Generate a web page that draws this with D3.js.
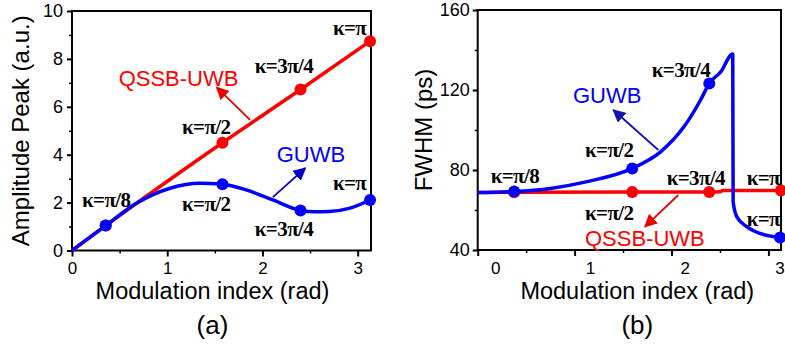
<!DOCTYPE html>
<html>
<head>
<meta charset="utf-8">
<script src="https://cdn.jsdelivr.net/npm/d3@7"></script>
<style>
  html, body { margin: 0; padding: 0; background: #fff; }
  svg { display: block; }
</style>
</head>
<body>
<svg id="chart" width="785" height="349"></svg>
<script>
// ── Data ─────────────────────────────────────────────
// (a) amplitude peak vs modulation index
const ampQssbX = [0, 0.354, 1.58, 2.40, 3.13];
const ampQssbY = [0, 1.04, 4.50, 6.72, 8.74];
const ampGuwbX = [0, 0.354, 0.68, 1.03, 1.34, 1.58, 1.83, 2.11, 2.40, 2.55, 2.70, 2.92, 3.13];
const ampGuwbY = [0, 1.04, 1.98, 2.60, 2.81, 2.77, 2.53, 2.11, 1.67, 1.62, 1.63, 1.77, 2.11];
const ampQssbDots = [1, 2, 3, 4];          // indices into ampQssb
const ampGuwbDots = [1, 5, 8, 12];         // indices into ampGuwb

// (b) FWHM vs modulation index
const fwQssbX = [0, 0.376, 1.595, 2.39, 2.50, 2.53, 3.13];
const fwQssbY = [68.8, 68.9, 69.0, 69.0, 69.1, 69.8, 69.8];
const fwGuwbX = [0, 0.376, 0.75, 1.13, 1.595, 1.89, 2.13, 2.30, 2.39, 2.51, 2.632, 2.636, 2.673, 2.776, 2.913, 3.12];
const fwGuwbY = [68.7, 69.2, 70.8, 74.2, 80.8, 89.2, 101.7, 115, 123.3, 129.2, 138, 64.2, 56.7, 51.7, 48.3, 46.3];
const fwQssbDots = [1, 2, 3, 6];
const fwGuwbDots = [1, 4, 8, 15];

// tick values
const xTicks      = [0, 1, 2, 3];
const xMinor      = [0.5, 1.5, 2.5];
const ampTicks    = [0, 2, 4, 6, 8, 10];
const ampMinor    = [1, 3, 5, 7, 9];
const fwTicks     = [40, 80, 120, 160];
const fwMinor     = [60, 100, 140];

// annotations [text, x, y, colour] in data units (text start, baseline)
const ampLabels = [
  ['κ=π',      2.74, 8.98, '#000'],
  ['κ=3π/4',   1.92, 7.42, '#000'],
  ['κ=π/2',    1.155, 4.87, '#000'],
  ['κ=π/8',    0.105, 1.82, '#000'],
  ['κ=π/2',    1.155, 1.65, '#000'],
  ['κ=π',      2.74, 2.53, '#000'],
  ['κ=3π/4',   1.92, 0.62, '#000'],
];
const ampNames = [
  ['QSSB-UWB', 0.49, 6.88, '#ff0000'],
  ['GUWB',     2.15, 3.71, '#0000ff'],
];
const ampArrows = [  // [x0, y0, x1(head), y1(head), colour]
  [1.87, 5.45, 1.52, 6.81, '#e80000'],
  [2.11, 2.23, 2.45, 3.44, '#0000c8'],
];

const fwLabels = [
  ['κ=3π/4', 1.796, 126.5, '#000'],
  ['κ=π/2',  1.107, 86.5, '#000'],
  ['κ=π/8',  0.134, 73.5, '#000'],
  ['κ=3π/4', 1.95, 72.5, '#000'],
  ['κ=π',    2.776, 72.5, '#000'],
  ['κ=π/2',  1.107, 55, '#000'],
  ['κ=π',    2.776, 52, '#000'],
];
const fwNames = [
  ['GUWB',     0.983, 113.5, '#0000ff'],
  ['QSSB-UWB', 1.107, 42, '#ff0000'],
];
const fwArrows = [
  [1.864, 90, 1.40, 110, '#1414b4'],
  [2.07, 67.5, 1.727, 51.7, '#e80000'],
];

// ── Setup ────────────────────────────────────────────
const svg = d3.select('#chart');
const SANS = '"Liberation Sans", Arial, sans-serif';
const SERIF = '"Liberation Serif", "Times New Roman", serif';

const defs = svg.append('defs');
function arrowMarker(id, color) {
  defs.append('marker')
    .attr('id', id)
    .attr('viewBox', '0 0 10 10')
    .attr('refX', 9).attr('refY', 5)
    .attr('markerWidth', 13).attr('markerHeight', 13)
    .attr('markerUnits', 'userSpaceOnUse')
    .attr('orient', 'auto')
    .append('path')
      .attr('d', 'M0,0 L10,5 L0,10 z')
      .attr('fill', color);
}

function drawPanel(opt) {
  const { left, right, top, bottom, xDomain, yDomain } = opt;
  const x = d3.scaleLinear().domain(xDomain).range([left, right]);
  const y = d3.scaleLinear().domain(yDomain).range([bottom, top]);
  const g = svg.append('g');

  // frame
  g.append('rect')
    .attr('x', left).attr('y', top)
    .attr('width', right - left).attr('height', bottom - top)
    .attr('fill', 'none').attr('stroke', '#000').attr('stroke-width', 2);

  // minor ticks
  g.append('g').attr('transform', `translate(0,${bottom})`)
    .call(d3.axisBottom(x).tickValues(xMinor).tickSize(3).tickFormat(''))
    .call(a => a.select('.domain').remove())
    .selectAll('line').attr('stroke-width', 1.5);
  g.append('g').attr('transform', `translate(${left},0)`)
    .call(d3.axisLeft(y).tickValues(opt.yMinor).tickSize(3).tickFormat(''))
    .call(a => a.select('.domain').remove())
    .selectAll('line').attr('stroke-width', 1.5);

  // major ticks
  const xa = g.append('g').attr('transform', `translate(0,${bottom})`)
    .call(d3.axisBottom(x).tickValues(xTicks).tickSize(6).tickPadding(5.5)
      .tickFormat(opt.shiftXLabels ? '' : d3.format('d')))
    .call(a => a.select('.domain').remove());
  xa.selectAll('line').attr('stroke-width', 2);
  xa.selectAll('text').attr('font-size', 17).attr('font-family', SANS).attr('fill', '#000');

  if (opt.shiftXLabels) {
    // labels in the original sit right of their ticks
    const lx = d3.scaleLinear().domain([0, 3]).range(opt.shiftXLabels);
    g.selectAll('.xlab').data(xTicks).join('text')
      .attr('x', d => lx(d)).attr('y', bottom + 23.5)
      .attr('text-anchor', 'middle')
      .attr('font-size', 17).attr('font-family', SANS)
      .text(d => d);
  }

  const ya = g.append('g').attr('transform', `translate(${left},0)`)
    .call(d3.axisLeft(y).tickValues(opt.yTicks).tickSize(5).tickPadding(opt.yPad))
    .call(a => a.select('.domain').remove());
  ya.selectAll('line').attr('stroke-width', 2);
  ya.selectAll('text').attr('font-size', 18).attr('font-family', SANS).attr('fill', '#000');

  // titles
  g.append('text')
    .attr('x', opt.xTitleX).attr('y', 299)
    .attr('text-anchor', 'middle')
    .attr('font-size', 23.5).attr('font-family', SANS)
    .text('Modulation index (rad)');
  g.append('text')
    .attr('transform', `translate(${opt.yTitleX},${(top + bottom) / 2}) rotate(-90)`)
    .attr('text-anchor', 'middle')
    .attr('font-size', 24).attr('font-family', SANS)
    .text(opt.yTitle);
  g.append('text')
    .attr('x', opt.xTitleX).attr('y', 334)
    .attr('text-anchor', 'middle')
    .attr('font-size', 26).attr('font-family', SANS)
    .text(opt.tag);

  // curves
  const line = d3.line().x(d => x(d[0])).y(d => y(d[1])).curve(d3.curveMonotoneX);
  const pts = (xs, ys) => xs.map((v, i) => [v, ys[i]]);
  const red = pts(opt.redX, opt.redY);
  const blue = pts(opt.blueX, opt.blueY);

  g.append('path').datum(red).attr('d', line)
    .attr('fill', 'none').attr('stroke', '#ff0000').attr('stroke-width', 3.5)
    .attr('stroke-linejoin', 'round');
  g.selectAll('.rdot').data(opt.redDots.map(i => red[i])).join('circle')
    .attr('cx', d => x(d[0])).attr('cy', d => y(d[1])).attr('r', 6)
    .attr('fill', '#ff0000');
  g.append('path').datum(blue).attr('d', line)
    .attr('fill', 'none').attr('stroke', '#0000ff').attr('stroke-width', 3.5)
    .attr('stroke-linejoin', 'round');
  g.selectAll('.bdot').data(opt.blueDots.map(i => blue[i])).join('circle')
    .attr('cx', d => x(d[0])).attr('cy', d => y(d[1])).attr('r', 6)
    .attr('fill', '#0000ff');

  // arrows
  opt.arrows.forEach((a, i) => {
    const id = `${opt.tag.replace(/\W/g, '')}-arr${i}`;
    arrowMarker(id, a[4]);
    g.append('line')
      .attr('x1', x(a[0])).attr('y1', y(a[1]))
      .attr('x2', x(a[2])).attr('y2', y(a[3]))
      .attr('stroke', a[4]).attr('stroke-width', 1.8)
      .attr('marker-end', `url(#${id})`);
  });

  // labels
  g.selectAll('.klab').data(opt.labels).join('text')
    .attr('x', d => x(d[1])).attr('y', d => y(d[2]))
    .attr('fill', d => d[3])
    .attr('font-size', 21).attr('font-weight', 'bold')
    .attr('font-family', SERIF).attr('letter-spacing', -0.6)
    .text(d => d[0]);
  g.selectAll('.nlab').data(opt.names).join('text')
    .attr('x', d => x(d[1])).attr('y', d => y(d[2]))
    .attr('fill', d => d[3])
    .attr('font-size', 22).attr('font-family', SANS)
    .text(d => d[0]);
}

drawPanel({
  left: 72, right: 371, top: 11, bottom: 250.5,
  xDomain: [0, 3.14], yDomain: [0, 10],
  yTicks: ampTicks, yMinor: ampMinor, yPad: 4,
  xTitleX: 212.5, yTitleX: 29, yTitle: 'Amplitude Peak (a.u.)', tag: '(a)',
  redX: ampQssbX, redY: ampQssbY, blueX: ampGuwbX, blueY: ampGuwbY,
  redDots: ampQssbDots, blueDots: ampGuwbDots,
  arrows: ampArrows, labels: ampLabels, names: ampNames,
});

drawPanel({
  left: 477.7, right: 781, top: 10, bottom: 250,
  xDomain: [0, 3.13], yDomain: [40, 160],
  yTicks: fwTicks, yMinor: fwMinor, yPad: 3,
  shiftXLabels: [495.7, 780],
  xTitleX: 637.3, yTitleX: 432, yTitle: 'FWHM (ps)', tag: '(b)',
  redX: fwQssbX, redY: fwQssbY, blueX: fwGuwbX, blueY: fwGuwbY,
  redDots: fwQssbDots, blueDots: fwGuwbDots,
  arrows: fwArrows, labels: fwLabels, names: fwNames,
});
</script>
</body>
</html>
